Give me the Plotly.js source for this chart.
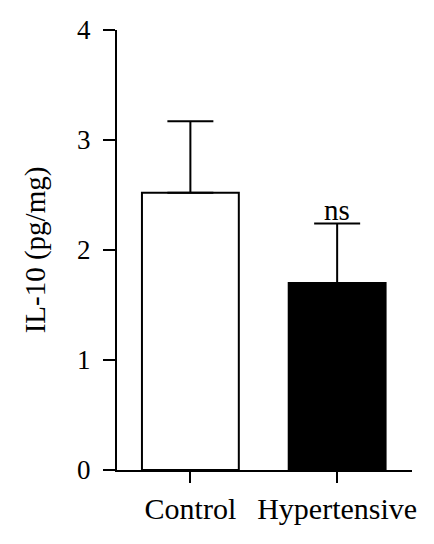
<!DOCTYPE html>
<html>
<head>
<meta charset="utf-8">
<script src="https://cdn.plot.ly/plotly-3.0.1.min.js"></script>
<style>
  html, body { margin: 0; padding: 0; background: #fff; }
  #plot { width: 434px; height: 544px; }
</style>
</head>
<body>
<div id="plot"></div>
<script>
// groups and values
let groups = ["Control", "Hypertensive"];
let meanIL10 = [2.52, 1.70];
let semIL10 = [0.65, 0.54];
let barColors = ["#ffffff", "#000000"];
let sigLabel = "ns";

let serif = "Liberation Serif, Times New Roman, serif";

// bar trace with upper error bars only
let trace1 = {
    x: groups,
    y: meanIL10,
    type: "bar",
    marker: {color: barColors, line: {color: "#000", width: 2}},
    error_y: {
        type: "data",
        symmetric: false,
        array: semIL10,
        arrayminus: [0, 0],
        color: "#000",
        thickness: 2,
        width: 23
    },
    hoverinfo: "none"
};

var layout = {
    width: 434,
    height: 544,
    margin: {l: 117, r: 22, t: 30, b: 74},
    paper_bgcolor: "#fff",
    plot_bgcolor: "#fff",
    showlegend: false,
    bargap: 0.34,
    font: {family: serif, color: "#000", size: 28},
    xaxis: {
        range: [-0.5, 1.51],
        showline: true,
        linecolor: "#000",
        linewidth: 2,
        ticks: "outside",
        ticklen: 11,
        tickwidth: 2,
        tickcolor: "#000",
        tickfont: {size: 30},
        showgrid: false,
        zeroline: false,
        fixedrange: true
    },
    yaxis: {
        range: [0, 4],
        tickvals: [0, 1, 2, 3, 4],
        showline: true,
        linecolor: "#000",
        linewidth: 2,
        ticks: "outside",
        ticklen: 12,
        tickwidth: 2,
        tickcolor: "#000",
        tickfont: {size: 27},
        ticklabelstandoff: 7,
        showgrid: false,
        zeroline: false,
        fixedrange: true,
        title: {text: "IL-10 (pg/mg)", font: {size: 29}, standoff: 23}
    },
    annotations: [{
        x: groups[1],
        y: meanIL10[1] + semIL10[1],
        text: sigLabel,
        showarrow: false,
        yanchor: "bottom",
        yshift: -4,
        font: {size: 29}
    }]
};

Plotly.newPlot("plot", [trace1], layout, {displayModeBar: false, staticPlot: true});
</script>
</body>
</html>
